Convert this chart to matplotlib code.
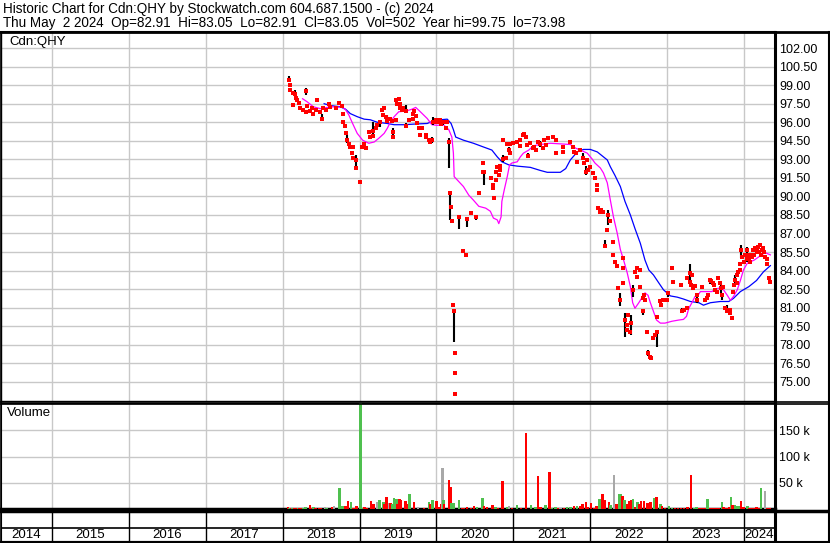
import matplotlib
matplotlib.use("Agg")
import matplotlib.pyplot as plt
from matplotlib.lines import Line2D
import numpy as np

plt.rcParams['font.family'] = ['Liberation Sans', 'DejaVu Sans']

# ---- text
title_line1 = "Historic Chart for Cdn:QHY by Stockwatch.com 604.687.1500 - (c) 2024"
title_line2 = "Thu May  2 2024  Op=82.91  Hi=83.05  Lo=82.91  Cl=83.05  Vol=502  Year hi=99.75  lo=73.98"
symbol = "Cdn:QHY"
years = [2014, 2015, 2016, 2017, 2018, 2019, 2020, 2021, 2022, 2023, 2024]
price_ticks = [75.0, 76.5, 78.0, 79.5, 81.0, 82.5, 84.0, 85.5, 87.0, 88.5, 90.0,
               91.5, 93.0, 94.5, 96.0, 97.5, 99.0, 100.5, 102.0]
vol_ticks = [50000, 100000, 150000]
vol_tick_labels = ["50 k", "100 k", "150 k"]

# ---- daily closes (decimal year, price)
close_dates = [
    2018.08, 2018.09, 2018.10, 2018.13, 2018.13, 2018.16, 2018.18, 2018.19, 2018.21, 2018.23,
    2018.26, 2018.30, 2018.31, 2018.32, 2018.35, 2018.38, 2018.40, 2018.43, 2018.45, 2018.48,
    2018.51, 2018.52, 2018.56, 2018.60, 2018.62, 2018.69, 2018.73, 2018.77, 2018.78, 2018.79,
    2018.81, 2018.83, 2018.84, 2018.86, 2018.88, 2018.90, 2018.91, 2018.92, 2018.95, 2018.96,
    2019.00, 2019.03, 2019.06, 2019.09, 2019.12, 2019.14, 2019.17, 2019.18, 2019.21, 2019.23,
    2019.26, 2019.29, 2019.31, 2019.32, 2019.35, 2019.36, 2019.39, 2019.42, 2019.43, 2019.44,
    2019.47, 2019.48, 2019.49, 2019.51, 2019.52, 2019.53, 2019.55, 2019.57, 2019.60, 2019.61,
    2019.64, 2019.69, 2019.70, 2019.71, 2019.73, 2019.75, 2019.77, 2019.79, 2019.81, 2019.86,
    2019.87, 2019.90, 2019.92, 2019.94, 2019.96, 2019.99, 2020.01, 2020.04, 2020.06, 2020.09,
    2020.12, 2020.14, 2020.16, 2020.18, 2020.19, 2020.20, 2020.21, 2020.23, 2020.235, 2020.24,
    2020.245, 2020.29, 2020.35, 2020.38, 2020.40, 2020.45, 2020.51, 2020.55, 2020.60, 2020.61,
    2020.62, 2020.71, 2020.73, 2020.74, 2020.75, 2020.77, 2020.78, 2020.79, 2020.81, 2020.82,
    2020.83, 2020.86, 2020.87, 2020.90, 2020.92, 2020.94, 2020.95, 2020.96, 2020.99, 2021.05,
    2021.08, 2021.09, 2021.12, 2021.14, 2021.16, 2021.18, 2021.19, 2021.22, 2021.25, 2021.27,
    2021.30, 2021.32, 2021.35, 2021.38, 2021.40, 2021.42, 2021.45, 2021.51, 2021.55, 2021.56,
    2021.64, 2021.65, 2021.74, 2021.77, 2021.79, 2021.82, 2021.83, 2021.86, 2021.90, 2021.92,
    2021.94, 2021.96, 2021.97, 2022.00, 2022.03, 2022.06, 2022.08, 2022.09, 2022.10, 2022.12,
    2022.14, 2022.17, 2022.19, 2022.22, 2022.23, 2022.26, 2022.29, 2022.30, 2022.32, 2022.35,
    2022.36, 2022.38, 2022.42, 2022.42, 2022.43, 2022.45, 2022.47, 2022.48, 2022.49, 2022.51,
    2022.53, 2022.56, 2022.58, 2022.60, 2022.61, 2022.64, 2022.65, 2022.68, 2022.70, 2022.71,
    2022.69, 2022.74, 2022.75, 2022.78, 2022.79, 2022.81, 2022.84, 2022.86, 2022.87, 2022.91,
    2022.92, 2022.94, 2022.99, 2023.01, 2023.06, 2023.08, 2023.18, 2023.19, 2023.22, 2023.25,
    2023.26, 2023.29, 2023.30, 2023.31, 2023.32, 2023.34, 2023.36, 2023.38, 2023.39, 2023.45,
    2023.49, 2023.51, 2023.53, 2023.55, 2023.57, 2023.60, 2023.61, 2023.62, 2023.65, 2023.66,
    2023.69, 2023.70, 2023.71, 2023.73, 2023.75, 2023.77, 2023.78, 2023.81, 2023.82, 2023.84,
    2023.86, 2023.87, 2023.88, 2023.90, 2023.91, 2023.92, 2023.94, 2023.95, 2023.96, 2023.97,
    2024.00, 2024.01, 2024.03, 2024.04, 2024.05, 2024.06, 2024.08, 2024.09, 2024.10, 2024.12,
    2024.13, 2024.14, 2024.16, 2024.17, 2024.18, 2024.19, 2024.21, 2024.22, 2024.23, 2024.25,
    2024.26, 2024.27, 2024.29, 2024.30, 2024.32, 2024.34]
close_vals = [
    99.40, 99.00, 98.60, 97.40, 98.40, 98.30, 98.00, 97.80, 97.55, 97.15,
    97.00, 98.50, 96.80, 97.30, 96.90, 97.15, 96.70, 97.00, 97.80, 96.80,
    96.30, 97.15, 97.00, 97.50, 97.20, 97.15, 97.55, 97.30, 96.70, 96.00,
    95.70, 95.10, 94.60, 94.20, 94.00, 93.50, 93.10, 94.00, 92.95, 92.30,
    91.20, 94.00, 94.20, 93.90, 95.20, 94.80, 94.90, 95.30, 95.50, 95.80,
    96.00, 97.00, 96.60, 97.15, 96.40, 96.10, 96.30, 96.10, 95.20, 94.80,
    96.20, 97.80, 97.50, 97.90, 97.15, 97.50, 97.00, 97.15, 96.90, 95.70,
    96.20, 96.70, 96.30, 96.90, 96.50, 95.90, 95.50, 94.95, 95.50, 95.00,
    94.80, 94.55, 94.40, 94.60, 96.00, 96.20, 96.00, 96.20, 95.85, 96.00,
    95.50, 96.00, 94.40, 90.30, 89.15, 88.00, 81.20, 80.70, 77.30, 75.70,
    73.98, 88.30, 85.60, 85.30, 88.20, 88.65, 88.30, 90.30, 92.00, 92.70,
    92.00, 91.50, 90.70, 90.90, 89.90, 91.30, 92.00, 92.40, 91.70, 92.10,
    92.50, 93.00, 94.60, 93.10, 94.20, 93.75, 93.50, 94.20, 94.30, 94.40,
    94.55, 94.10, 94.97, 95.05, 94.80, 94.16, 93.30, 94.30, 93.90, 94.00,
    93.75, 94.40, 94.20, 93.90, 94.55, 94.16, 94.70, 94.80, 94.55, 93.50,
    93.60, 94.00, 94.40, 94.00, 93.60, 93.50, 92.80, 93.75, 93.10, 92.70,
    92.00, 92.95, 92.10, 92.40, 91.90, 91.50, 90.90, 90.50, 89.10, 88.70,
    88.90, 88.70, 86.00, 87.30, 88.50, 88.00, 86.30, 85.30, 84.70, 84.40,
    82.60, 81.60, 84.20, 83.00, 85.00, 80.00, 79.20, 79.60, 80.40, 79.00,
    79.80, 82.40, 83.90, 84.20, 83.50, 84.05, 82.70, 81.80, 82.00, 81.60,
    80.70, 79.00, 77.30, 77.00, 76.90, 78.55, 78.80, 79.00, 80.25, 81.50,
    81.20, 81.60, 81.60, 82.20, 84.20, 83.10, 82.80, 80.70, 80.80, 81.00,
    83.40, 83.10, 83.80, 82.80, 83.65, 82.60, 82.75, 81.60, 82.00, 82.70,
    81.60, 81.80, 82.00, 83.20, 83.15, 83.00, 82.85, 82.40, 82.30, 83.40,
    83.00, 82.60, 82.00, 82.70, 81.00, 80.70, 80.80, 80.60, 80.80, 80.20,
    82.30, 82.80, 83.20, 83.00, 83.65, 83.90, 84.05, 84.50, 85.70, 85.10,
    84.70, 85.30, 84.90, 85.70, 85.30, 84.90, 84.70, 85.30, 85.10, 85.70,
    85.30, 85.80, 85.50, 85.70, 85.90, 85.50, 86.10, 85.30, 85.70, 85.80,
    85.50, 85.10, 84.90, 84.50, 83.40, 83.05]

# ---- high/low bars (decimal year, high, low)
bar_dates = [2018.08, 2018.16, 2018.30, 2018.51, 2018.84, 2018.96, 2019.00, 2019.18, 2019.26,
             2019.36, 2019.44, 2019.48, 2019.60, 2019.61, 2019.94, 2019.96, 2020.09, 2020.16,
             2020.18, 2020.23, 2020.29, 2020.40, 2020.51, 2020.62, 2020.86, 2020.94, 2021.19,
             2021.35, 2021.56, 2021.90, 2021.94, 2022.19, 2022.22, 2022.23, 2022.38, 2022.45,
             2022.53, 2022.56, 2022.69, 2022.75, 2022.86, 2023.01, 2023.19, 2023.30, 2023.38,
             2023.55, 2023.70, 2023.71, 2023.77, 2023.88, 2023.96, 2024.04]
bar_hi = [99.75, 98.60, 98.80, 96.70, 95.00, 93.35, 91.30, 96.00, 96.10,
          96.60, 95.50, 98.00, 97.40, 95.90, 94.80, 96.40, 96.20, 94.70,
          90.40, 80.70, 88.30, 88.20, 88.30, 92.10, 93.35, 94.00, 93.50,
          94.50, 93.70, 93.50, 92.50, 86.50, 87.45, 88.90, 82.20, 80.60,
          80.40, 82.80, 80.80, 77.60, 79.00, 82.20, 81.00, 84.50, 82.20,
          83.40, 83.00, 82.20, 81.20, 83.65, 86.10, 85.90]
bar_lo = [99.25, 98.20, 98.20, 96.20, 94.30, 92.30, 91.10, 95.00, 95.60,
          95.90, 94.80, 97.40, 96.80, 95.60, 94.30, 95.80, 95.80, 92.30,
          88.10, 78.20, 87.40, 87.50, 88.10, 90.90, 92.75, 93.50, 93.10,
          94.00, 93.35, 93.00, 91.70, 85.80, 87.15, 87.70, 81.10, 78.60,
          78.80, 81.90, 80.40, 77.10, 77.80, 81.90, 80.60, 83.20, 81.40,
          82.90, 82.20, 81.60, 80.60, 82.80, 85.00, 84.70]

# ---- moving averages
ma_short_dates = [2018.26, 2018.32, 2018.40, 2018.49, 2018.58, 2018.66, 2018.78, 2018.82, 2018.86,
                  2018.91, 2018.97, 2019.04, 2019.12, 2019.19, 2019.25, 2019.32, 2019.36, 2019.40,
                  2019.45, 2019.51, 2019.60, 2019.68, 2019.73, 2019.79, 2019.88, 2019.94, 2020.01,
                  2020.09, 2020.16, 2020.20, 2020.22, 2020.23, 2020.29, 2020.35, 2020.42, 2020.48,
                  2020.55, 2020.64, 2020.70, 2020.74, 2020.79, 2020.81, 2020.84, 2020.85, 2020.88,
                  2020.92, 2020.95, 2020.98, 2021.05, 2021.09, 2021.13, 2021.20, 2021.26, 2021.35,
                  2021.48, 2021.61, 2021.74, 2021.81, 2021.87, 2021.96, 2022.02, 2022.06, 2022.13,
                  2022.17, 2022.22, 2022.26, 2022.30, 2022.35, 2022.39, 2022.43, 2022.48, 2022.52,
                  2022.55, 2022.58, 2022.63, 2022.67, 2022.71, 2022.75, 2022.78, 2022.82, 2022.86,
                  2022.91, 2022.97, 2023.06, 2023.15, 2023.21, 2023.25, 2023.28, 2023.32, 2023.36,
                  2023.41, 2023.43, 2023.52, 2023.58, 2023.62, 2023.69, 2023.73, 2023.78, 2023.82,
                  2023.86, 2023.91, 2023.95, 2023.99, 2024.04, 2024.13, 2024.21, 2024.27, 2024.34]
ma_short_vals = [97.90, 97.65, 97.25, 97.10, 97.20, 97.25, 97.20, 97.00, 96.60,
                 95.90, 95.10, 94.55, 94.30, 94.40, 94.70, 95.10, 95.50, 96.00,
                 96.45, 96.85, 96.90, 97.05, 97.20, 96.85, 96.30, 95.80, 95.75,
                 95.80, 95.40, 94.80, 93.50, 91.60, 91.20, 90.80, 90.10, 89.70,
                 89.20, 89.05, 88.80, 88.25, 88.10, 87.80, 88.35, 89.60, 90.50,
                 91.60, 92.55, 92.70, 92.80, 93.20, 93.50, 93.75, 94.10, 94.20,
                 94.30, 94.25, 94.20, 93.90, 93.75, 93.50, 93.05, 92.70, 92.30,
                 91.90, 91.10, 89.70, 88.35, 87.00, 85.70, 84.90, 83.80, 82.70,
                 81.40, 80.95, 81.40, 81.80, 82.20, 82.00, 81.40, 80.70, 80.00,
                 79.75, 79.75, 79.90, 80.00, 80.05, 80.30, 80.95, 81.40, 81.90,
                 82.10, 82.30, 82.30, 82.30, 82.50, 82.60, 82.45, 82.00, 81.60,
                 81.90, 82.45, 83.20, 84.05, 84.60, 84.85, 85.20, 85.45, 85.27]

ma_long_dates = [2018.54, 2018.62, 2018.75, 2018.82, 2018.88, 2018.97, 2019.06, 2019.14, 2019.23,
                 2019.36, 2019.45, 2019.58, 2019.71, 2019.88, 2019.96, 2020.05, 2020.14, 2020.19,
                 2020.22, 2020.25, 2020.35, 2020.48, 2020.61, 2020.72, 2020.79, 2020.85, 2020.94,
                 2021.05, 2021.22, 2021.35, 2021.44, 2021.61, 2021.68, 2021.74, 2021.83, 2021.91,
                 2022.00, 2022.09, 2022.22, 2022.26, 2022.32, 2022.39, 2022.45, 2022.52, 2022.58,
                 2022.65, 2022.71, 2022.76, 2022.82, 2022.89, 2022.95, 2023.04, 2023.13, 2023.21,
                 2023.30, 2023.41, 2023.47, 2023.56, 2023.69, 2023.80, 2023.86, 2023.95, 2024.06,
                 2024.16, 2024.25, 2024.34]
ma_long_vals = [97.50, 97.35, 97.25, 97.05, 96.70, 96.45, 96.25, 96.20, 96.00,
                95.90, 95.80, 95.80, 95.85, 95.90, 96.10, 96.20, 96.25, 95.90,
                95.40, 94.80, 94.55, 94.30, 94.00, 93.75, 93.20, 92.80, 92.55,
                92.45, 92.35, 92.10, 91.95, 91.95, 92.25, 92.95, 93.60, 93.80,
                93.80, 93.60, 92.95, 92.40, 91.70, 90.80, 89.60, 88.50, 87.40,
                86.20, 84.85, 84.05, 83.65, 83.00, 82.45, 81.95, 81.85, 81.70,
                81.50, 81.40, 81.20, 81.40, 81.50, 81.50, 81.75, 82.30, 82.70,
                83.20, 83.90, 84.40]

# ---- volume (decimal year, shares in thousands, r=down g=up n=unchanged)
vol_dates = [2018.07, 2018.09, 2018.11, 2018.13, 2018.15, 2018.17, 2018.20, 2018.22, 2018.25, 2018.27,
             2018.30, 2018.355, 2018.38, 2018.40, 2018.43, 2018.47, 2018.50, 2018.55, 2018.57, 2018.645,
             2018.67, 2018.74, 2018.78, 2018.82, 2018.85, 2018.89, 2018.92, 2018.96, 2019.01, 2019.03,
             2019.065, 2019.10, 2019.15, 2019.18, 2019.23, 2019.26, 2019.31, 2019.32, 2019.35, 2019.38,
             2019.40, 2019.42, 2019.45, 2019.48, 2019.49, 2019.52, 2019.54, 2019.60, 2019.61, 2019.65,
             2019.71, 2019.76, 2019.84, 2019.90, 2019.92, 2019.95, 2020.00, 2020.03, 2020.06, 2020.08,
             2020.09, 2020.10, 2020.16, 2020.18, 2020.19, 2020.22, 2020.29, 2020.33, 2020.36, 2020.40,
             2020.45, 2020.49, 2020.53, 2020.60, 2020.62, 2020.66, 2020.73, 2020.77, 2020.80, 2020.86,
             2020.92, 2020.94, 2020.98, 2021.05, 2021.10, 2021.165, 2021.23, 2021.29, 2021.32, 2021.35,
             2021.42, 2021.47, 2021.50, 2021.55, 2021.58, 2021.61, 2021.66, 2021.70, 2021.74, 2021.79,
             2021.83, 2021.87, 2021.90, 2021.94, 2021.97, 2022.01, 2022.05, 2022.08, 2022.12, 2022.16,
             2022.19, 2022.24, 2022.26, 2022.31, 2022.34, 2022.38, 2022.40, 2022.42, 2022.445, 2022.48,
             2022.50, 2022.53, 2022.555, 2022.58, 2022.61, 2022.63, 2022.66, 2022.70, 2022.74, 2022.78,
             2022.835, 2022.86, 2022.91, 2022.93, 2022.97, 2023.02, 2023.06, 2023.10, 2023.14, 2023.18,
             2023.22, 2023.26, 2023.31, 2023.35, 2023.38, 2023.42, 2023.46, 2023.49, 2023.52, 2023.56,
             2023.60, 2023.64, 2023.67, 2023.71, 2023.73, 2023.77, 2023.80, 2023.83, 2023.85, 2023.88,
             2023.905, 2023.935, 2023.96, 2023.99, 2024.04, 2024.07, 2024.10, 2024.13, 2024.16, 2024.19,
             2024.22, 2024.27, 2024.30, 2024.33]
vol_k = [3, 2, 2, 2, 2, 2, 2, 2, 2, 2,
         3, 8, 2, 3, 2, 2, 2, 3, 2, 3,
         6, 40, 5, 5, 15, 13, 2, 5, 210, 2,
         3, 2, 15, 10, 13, 17, 13, 10, 23, 11,
         12, 10, 21, 19, 10, 19, 18, 15, 10, 29,
         13, 3, 2, 13, 9, 17, 15, 3, 10, 79,
         17, 9, 56, 42, 11, 12, 17, 2, 2, 3,
         2, 5, 3, 21, 5, 3, 8, 3, 2, 54,
         3, 5, 2, 8, 2, 145, 8, 4, 63, 4,
         8, 71, 2, 4, 2, 2, 2, 3, 3, 5,
         6, 5, 10, 14, 3, 12, 2, 6, 19, 29,
         17, 13, 7, 65, 10, 29, 29, 25, 17, 10,
         15, 17, 19, 3, 13, 10, 15, 15, 12, 13,
         21, 23, 10, 5, 2, 6, 2, 2, 2, 2,
         2, 4, 65, 2, 4, 2, 2, 2, 19, 2,
         2, 2, 2, 13, 4, 2, 3, 23, 7, 7,
         6, 5, 15, 3, 6, 2, 2, 2, 3, 2,
         40, 35, 2, 2]
vol_dir = ['r', 'g', 'r', 'g', 'r', 'r', 'g', 'r', 'r', 'g',
           'g', 'r', 'r', 'g', 'r', 'r', 'r', 'n', 'g', 'r',
           'n', 'g', 'g', 'r', 'r', 'g', 'r', 'r', 'g', 'g',
           'r', 'r', 'r', 'r', 'n', 'g', 'g', 'r', 'r', 'n',
           'r', 'g', 'g', 'g', 'r', 'r', 'r', 'r', 'r', 'g',
           'r', 'n', 'r', 'g', 'r', 'g', 'r', 'r', 'r', 'n',
           'g', 'r', 'r', 'r', 'g', 'g', 'g', 'r', 'r', 'r',
           'r', 'r', 'g', 'g', 'r', 'r', 'r', 'g', 'r', 'r',
           'g', 'n', 'r', 'g', 'r', 'r', 'g', 'g', 'r', 'r',
           'g', 'r', 'g', 'g', 'r', 'n', 'r', 'g', 'g', 'r',
           'g', 'r', 'r', 'r', 'r', 'r', 'r', 'r', 'g', 'r',
           'r', 'r', 'g', 'n', 'r', 'g', 'g', 'r', 'g', 'r',
           'r', 'r', 'g', 'r', 'g', 'r', 'r', 'r', 'r', 'r',
           'g', 'r', 'g', 'r', 'r', 'g', 'g', 'r', 'r', 'r',
           'r', 'r', 'r', 'g', 'g', 'r', 'r', 'r', 'g', 'r',
           'r', 'r', 'r', 'g', 'r', 'r', 'r', 'g', 'r', 'g',
           'g', 'g', 'r', 'r', 'g', 'r', 'r', 'r', 'r', 'r',
           'g', 'n', 'r', 'r']

# ---- layout (pixels of an 830x543 canvas)
W, H = 830, 543
x0, x1 = 2014.34, 2024.40
grid_c = '#c8c8c8'
colmap = {'r': '#ff0000', 'g': '#4fc04f', 'n': '#a8a8a8'}


def fy(y):
    return 1 - y / H


fig = plt.figure(figsize=(W / 100, H / 100), dpi=100)
fig.patch.set_facecolor('white')

fig.text(3 / W, fy(9), title_line1, fontsize=9.75, va='center', ha='left')
fig.text(3 / W, fy(22.5), title_line2, fontsize=9.75, va='center', ha='left')

# price panel
ax = fig.add_axes([1 / W, fy(401), 774 / W, 369 / H])
ax.plot(ma_long_dates, ma_long_vals, color='#0000ff', lw=0.9, zorder=3)
ax.plot(ma_short_dates, ma_short_vals, color='#ff00ff', lw=0.9, zorder=3)
ax.vlines(bar_dates, bar_lo, bar_hi, color='black', lw=1.5, zorder=4)
ax.plot(close_dates, close_vals, 's', color='#ff0000', ms=2.7, mew=0, zorder=5)
ax.set_xlim(x0, x1)
ax.set_ylim(73.45, 103.3)
ax.set_yticks(price_ticks)
ax.set_yticklabels([f"{v:.2f}" for v in price_ticks])
ax.set_xticks(years[1:])
ax.set_xticklabels([])
ax.yaxis.tick_right()
ax.tick_params(axis='y', length=0, pad=3, labelsize=9)
ax.tick_params(axis='x', length=0)
ax.grid(True, color=grid_c, lw=1)
ax.set_axisbelow(True)
ax.text(8 / 774, 1 - 10 / 369, symbol, transform=ax.transAxes, fontsize=9.5, va='center', ha='left')
for s in ax.spines.values():
    s.set_color('black')
ax.spines['top'].set_linewidth(1.5)
ax.spines['right'].set_linewidth(2.2)
ax.spines['left'].set_linewidth(1)
ax.spines['bottom'].set_linewidth(1)

# volume panel
axv = fig.add_axes([1 / W, fy(509), 774 / W, 106 / H])
axv.bar(vol_dates, [v * 1000 for v in vol_k], width=0.032,
        color=[colmap[d] for d in vol_dir], zorder=3)
axv.set_xlim(x0, x1)
axv.set_ylim(0, 202000)
axv.set_yticks(vol_ticks)
axv.set_yticklabels(vol_tick_labels)
axv.set_xticks(years[1:])
axv.set_xticklabels([])
axv.yaxis.tick_right()
axv.tick_params(axis='y', length=0, pad=3, labelsize=9)
axv.tick_params(axis='x', length=0)
axv.grid(True, color=grid_c, lw=1)
axv.set_axisbelow(True)
axv.text(6 / 774, 1 - 10 / 106, "Volume", transform=axv.transAxes, fontsize=9.5, va='center', ha='left')
for s in axv.spines.values():
    s.set_color('black')
axv.spines['top'].set_linewidth(1)
axv.spines['right'].set_linewidth(2.2)
axv.spines['bottom'].set_linewidth(2.5)

# year strip
axy = fig.add_axes([1 / W, fy(542), 774 / W, 31 / H])
axy.set_xlim(x0, x1)
axy.set_ylim(0, 31)
axy.vlines(years[1:], 0, 31, color='black', lw=1)
axy.axhline(14, color='black', lw=1.2)
edges = [x0] + years[1:] + [2024.38]
for i, yr in enumerate(years):
    axy.text((edges[i] + edges[i + 1]) / 2, 7, str(yr), ha='center', va='center', fontsize=9.5)
axy.set_xticks([])
axy.set_yticks([])
for s in axy.spines.values():
    s.set_color('black')
axy.spines['right'].set_linewidth(2.2)
axy.spines['bottom'].set_linewidth(1.5)

# full-width rules and outer frame
for yy, lw in [(31.5, 2), (401.5, 1.2), (403.5, 1.2), (510.5, 2.5), (542, 1.5)]:
    fig.add_artist(Line2D([0, 1], [fy(yy), fy(yy)], color='black', lw=lw, transform=fig.transFigure))
fig.add_artist(Line2D([1 / W, 1 / W], [0, fy(31.5)], color='black', lw=1.2, transform=fig.transFigure))
fig.add_artist(Line2D([829 / W, 829 / W], [0, fy(31.5)], color='black', lw=1.5, transform=fig.transFigure))

fig.savefig('out.png', dpi=100)
